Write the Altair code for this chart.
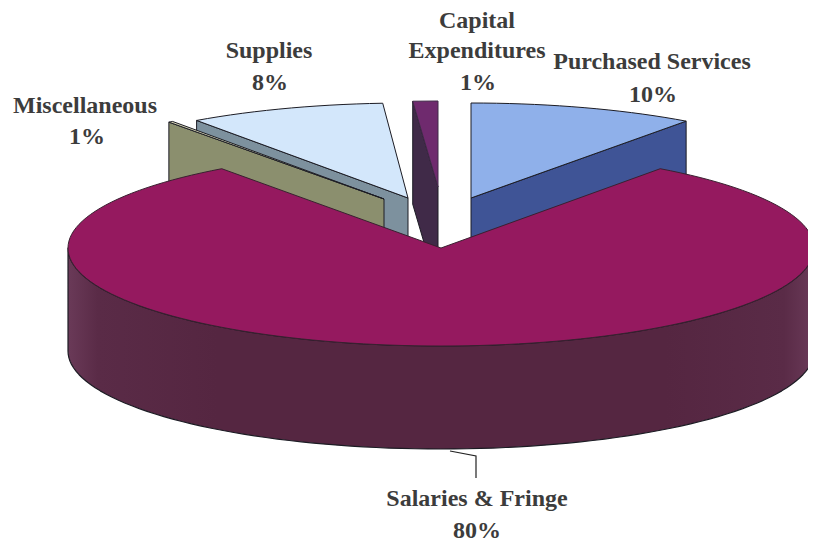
import math
import altair as alt
import pandas as pd

# Chart values
categories = ["Purchased Services", "Salaries & Fringe", "Miscellaneous", "Supplies", "Capital Expenditures"]
printed_labels = ["10%", "80%", "1%", "8%", "1%"]
# shares (the printed labels are rounded)
shares = [10.0, 80.0, 0.2, 8.7, 1.1]

top_colors = ["#8fb0ea", "#95195f", "#d9d8b8", "#d3e7fb", "#6f2a6e"]
side_colors = ["#3f5496", "#552641", "#8b8f6e", "#7d919e", "#402a48"]

# slice placement: apex x, apex y, semi-axis a, semi-axis b
placement = [
    (471, 198, 366, 95),
    (441, 248, 373, 98),
    (384, 199, 366, 95),
    (408, 198, 366, 95),
    (438, 187, 366, 86),
]
DEPTH = 103
EDGE = "#1c1c24"

starts, t = [], 0.0
for s in shares:
    starts.append(t)
    t += s * 3.6


def pt(i, deg, dy=0):
    cx, cy, a, b = placement[i]
    r = math.radians(deg)
    return (cx + a * math.sin(r), cy - b * math.cos(r) + dy)


def arc(i, d0, d1, dy=0, step=2.0):
    n = max(2, int(abs(d1 - d0) / step) + 1)
    return [pt(i, d0 + (d1 - d0) * k / (n - 1), dy) for k in range(n)]


X = alt.Scale(domain=[8, 808], range=[0, 800])
Y = alt.Scale(domain=[8, 542], range=[0, 534])


def poly(points, fill, stroke=EDGE, width=1.0):
    pts = list(points) + [points[0]]
    df = pd.DataFrame({"px": [p[0] for p in pts], "py": [p[1] for p in pts], "seq": range(len(pts))})
    return alt.Chart(df).mark_line(fill=fill, stroke=stroke, strokeWidth=width, strokeJoin="round", clip=False, interpolate="linear").encode(
        x=alt.X("px:Q", scale=X, axis=None),
        y=alt.Y("py:Q", scale=Y, axis=None),
        order="seq:Q",
    )


def flat_side(i, deg):
    cx, cy, a, b = placement[i]
    p = pt(i, deg)
    return [(cx, cy), p, (p[0], p[1] + DEPTH), (cx, cy + DEPTH)]


def top_face(i):
    cx, cy, a, b = placement[i]
    return [(cx, cy)] + arc(i, starts[i], starts[i] + shares[i] * 3.6)


layers = []
# supplies
layers.append(poly(flat_side(3, starts[3]), side_colors[3]))
layers.append(poly(top_face(3), top_colors[3]))
# miscellaneous
layers.append(poly(flat_side(2, starts[2]), side_colors[2]))
layers.append(poly(top_face(2), top_colors[2]))
# capital
layers.append(poly(flat_side(4, starts[4]), side_colors[4], width=1.0))
layers.append(poly(top_face(4), top_colors[4], stroke=side_colors[4]))
# purchased
layers.append(poly(flat_side(0, starts[0] + shares[0] * 3.6), side_colors[0]))
layers.append(poly(top_face(0), top_colors[0]))
# salaries
side = arc(1, 90, 270) + arc(1, 270, 90, DEPTH)
side_fill = alt.Gradient(
    gradient="linear", x1=0, x2=1, y1=0, y2=0,
    stops=[
        alt.GradientStop(color="#6a3a58", offset=0),
        alt.GradientStop(color="#5a2b47", offset=0.04),
        alt.GradientStop(color="#552641", offset=0.2),
        alt.GradientStop(color="#552641", offset=0.8),
        alt.GradientStop(color="#5a2b47", offset=0.96),
        alt.GradientStop(color="#6a3a58", offset=1),
    ],
)
layers.append(poly(side, side_fill, width=1.2))
layers.append(poly(top_face(1), top_colors[1], stroke="#3a2030"))

# leader line
leader_x = [450, 476, 476]
leader_y = [451, 456, 478]
layers.append(
    alt.Chart(pd.DataFrame({"px": leader_x, "py": leader_y, "seq": [0, 1, 2]}))
    .mark_line(color="#222222", strokeWidth=1.2)
    .encode(x=alt.X("px:Q", scale=X, axis=None), y=alt.Y("py:Q", scale=Y, axis=None), order="seq:Q")
)

# labels
label_rows = [
    ("Purchased Services", 652, 62),
    (printed_labels[0], 653, 95),
    ("Salaries & Fringe", 477, 499),
    (printed_labels[1], 477, 531),
    ("Miscellaneous", 85, 106),
    (printed_labels[2], 87, 137),
    ("Supplies", 269, 51),
    (printed_labels[3], 270, 83),
    ("Capital", 477, 21),
    ("Expenditures", 477, 51),
    (printed_labels[4], 478, 83),
]
labels = pd.DataFrame(label_rows, columns=["txt", "px", "py"])
layers.append(
    alt.Chart(labels)
    .mark_text(font="Liberation Serif", fontWeight="bold", fontSize=24, color="#3c3c3c", baseline="middle", align="center")
    .encode(x=alt.X("px:Q", scale=X, axis=None), y=alt.Y("py:Q", scale=Y, axis=None), text="txt:N")
)

chart = (
    alt.layer(*layers)
    .properties(width=800, height=534, padding=0, background="#ffffff", autosize=alt.AutoSizeParams(type="none"))
    .configure_view(stroke=None)
)
chart.save("out.html", embed_options={"renderer": "svg", "actions": False})
